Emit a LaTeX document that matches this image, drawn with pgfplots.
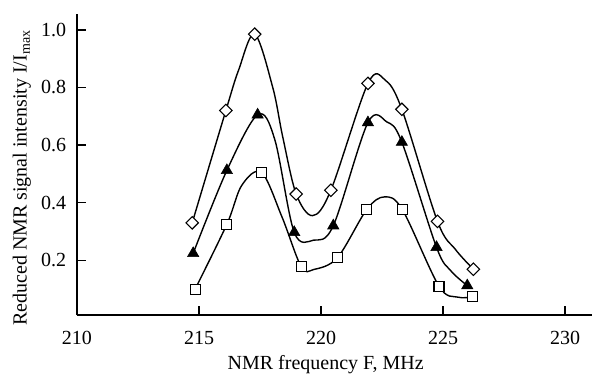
\documentclass[border=0pt]{standalone}
\usepackage{pgfplots}
\pgfplotsset{compat=1.18}
\usepackage{fontspec}
\setmainfont{Liberation Serif}
\newcommand\f{\fontsize{20bp}{24bp}\selectfont}
\pgfplotstableread{
x y
214.72 0.330
216.10 0.720
216.62 0.860
217.28 0.985
218.02 0.800
218.43 0.628
218.98 0.430
219.65 0.355
220.40 0.443
221.92 0.814
222.62 0.826
223.31 0.724
224.77 0.335
225.50 0.238
226.24 0.169
}\dcurve
\pgfplotstableread{
x y
214.72 0.330
216.10 0.720
217.28 0.985
218.98 0.430
220.40 0.443
221.92 0.814
223.31 0.724
224.77 0.335
226.24 0.169
}\dmarks
\pgfplotstableread{
x y
214.76 0.224
216.14 0.512
217.40 0.705
218.10 0.620
218.90 0.297
219.70 0.270
220.50 0.320
221.92 0.678
222.70 0.680
223.31 0.610
224.73 0.245
225.30 0.165
225.99 0.112
}\tcurve
\pgfplotstableread{
x y
214.76 0.224
216.14 0.512
217.40 0.705
218.90 0.297
220.50 0.320
221.92 0.678
223.31 0.610
224.73 0.245
225.99 0.112
}\tmarks
\pgfplotstableread{
x y
214.84 0.100
216.14 0.325
216.75 0.460
217.56 0.505
218.40 0.350
219.19 0.177
219.70 0.168
220.67 0.209
221.87 0.376
222.60 0.420
223.33 0.376
224.83 0.110
225.60 0.072
226.20 0.073
}\scurve
\pgfplotstableread{
x y
214.84 0.100
216.14 0.325
217.56 0.505
219.19 0.177
220.67 0.209
221.87 0.376
223.33 0.376
224.83 0.110
226.20 0.073
}\smarks
\begin{document}
\f
\begin{tikzpicture}
\begin{axis}[
  scale only axis, width=515bp, height=301bp,
  xmin=210, xmax=231.1, ymin=0.01, ymax=1.055,
  axis lines=left, axis line style={-, line width=1.4bp, black},
  tick align=inside, major tick length=9bp,
  every tick/.style={line width=1.4bp, black},
  xtick={210,215,220,225,230}, ytick={0.2,0.4,0.6,0.8,1.0},
  minor tick num=0,
  /pgf/number format/assume math mode=true,
  xticklabel style={font=\f, yshift=-9bp, /pgf/number format/1000 sep={}},
  yticklabel style={font=\f, xshift=-4bp, /pgf/number format/fixed, /pgf/number format/fixed zerofill, /pgf/number format/precision=1},
  xlabel={NMR frequency F, MHz},
  ylabel={Reduced NMR signal intensity I/I\textsubscript{max}},
  xlabel style={font=\f, at={(axis description cs:0.483,0)}, anchor=north, yshift=-34bp},
  ylabel style={font=\f, at={(axis description cs:-0.107,0.455)}, anchor=center},
  clip=false,
]
\coordinate (SW) at (rel axis cs:0,0);
\coordinate (NE) at (rel axis cs:1,1);
\addplot[black, line width=1.4bp, smooth, tension=0.55] table {\dcurve};
\addplot[black, line width=1.4bp, smooth, tension=0.55] table {\tcurve};
\addplot[black, line width=1.4bp, smooth, tension=0.55] table {\scurve};
\addplot[only marks, mark=square*, mark size=4.4bp, mark options={rotate=45, fill=white, draw=black, line width=1.1bp}] table {\dmarks};
\addplot[only marks, mark=triangle*, mark size=6.5bp, mark options={fill=black, draw=black, line width=0.6bp}] table {\tmarks};
\addplot[only marks, mark=square*, mark size=5bp, mark options={fill=white, draw=black, line width=1.1bp}] table {\smarks};
\end{axis}
\pgfresetboundingbox
\path[use as bounding box] ([xshift=-77bp,yshift=-66bp]SW) rectangle ([yshift=14bp]NE);
\end{tikzpicture}
\end{document}
